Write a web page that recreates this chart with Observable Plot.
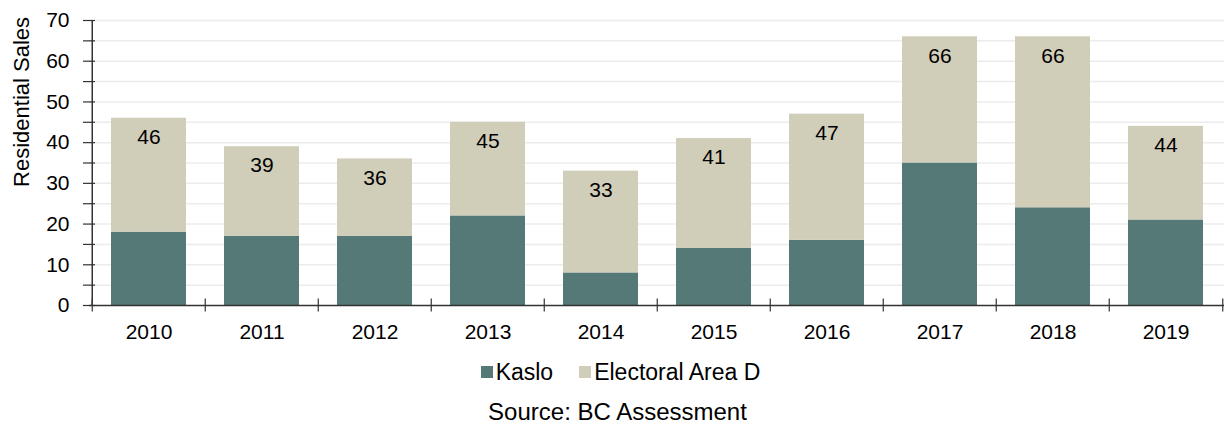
<!DOCTYPE html>
<html>
<head>
<meta charset="utf-8">
<script src="https://cdn.jsdelivr.net/npm/d3@7"></script>
<script src="https://cdn.jsdelivr.net/npm/@observablehq/plot@0.6"></script>
<style>
  html, body { margin: 0; padding: 0; background: #fff; }
  body { width: 1231px; font-family: "Liberation Sans", Arial, sans-serif; color: #000; }
  #legend { display: flex; justify-content: center; align-items: center; height: 26px; line-height: 26px; margin-top: 14px; font-size: 23px; padding-left: 10px; }
  .item { display: flex; align-items: center; margin: 0 13px; }
  .sw { width: 12px; height: 12px; margin-right: 3px; }
  #caption { text-align: center; height: 26px; line-height: 26px; margin-top: 14px; font-size: 24px; padding-left: 4px; }
</style>
</head>
<body>
<div id="chart"></div>
<div id="legend"></div>
<div id="caption">Source: BC Assessment</div>
<script>
const years = ["2010","2011","2012","2013","2014","2015","2016","2017","2018","2019"];
const kaslo = [18, 17, 17, 22, 8, 14, 16, 35, 24, 21];
const electoralAreaD = [28, 22, 19, 23, 25, 27, 31, 31, 42, 23];
const totals = [46, 39, 36, 45, 33, 41, 47, 66, 66, 44];
const seriesNames = ["Kaslo", "Electoral Area D"];
const seriesColors = ["#557976", "#d0cdb8"];
const yTicks = [0, 10, 20, 30, 40, 50, 60, 70];
const yMinorTicks = [0, 5, 10, 15, 20, 25, 30, 35, 40, 45, 50, 55, 60, 65, 70];

const W = 1231, ML = 89, MR = 7;
const step = (W - ML - MR) / years.length;

const rows = [];
years.forEach((y, i) => {
  rows.push({year: y, series: seriesNames[0], value: kaslo[i]});
  rows.push({year: y, series: seriesNames[1], value: electoralAreaD[i]});
});
const labels = years.map((y, i) => ({year: y, total: totals[i]}));

const plot = Plot.plot({
  width: W,
  height: 345,
  marginLeft: ML,
  marginRight: MR,
  marginTop: 20,
  marginBottom: 40,
  style: {fontFamily: "'Liberation Sans', Arial, sans-serif", fontSize: "21px", color: "#000", background: "#fff"},
  x: {domain: years, padding: 0, label: null},
  y: {domain: [0, 70], label: null},
  color: {domain: seriesNames, range: seriesColors},
  marks: [
    Plot.gridY(yMinorTicks.filter(d => d > 0), {stroke: "#ececec", strokeOpacity: 1, strokeWidth: 1.5}),
    Plot.barY(rows, {x: "year", y: "value", fill: "series", insetLeft: 19, insetRight: 19, order: null}),
    Plot.text(labels, {x: "year", y: "total", text: d => String(d.total), dy: 19, fontSize: 21, fill: "#000"}),
    // x axis line and category boundary ticks
    Plot.ruleY([0], {stroke: "#333", strokeWidth: 1.5}),
    Plot.ruleX(years, {x: d => d, y1: -1.6, y2: 1.6, dx: -step / 2, stroke: "#333", strokeWidth: 1.2}),
    Plot.ruleX([years[years.length - 1]], {x: d => d, y1: -1.6, y2: 1.6, dx: step / 2, stroke: "#333", strokeWidth: 1.2}),
    // y axis line
    Plot.ruleX([years[0]], {x: d => d, y1: 0, y2: 70, dx: -step / 2, stroke: "#333", strokeWidth: 1.5}),
    Plot.axisY(yMinorTicks, {tickSize: 12, dx: 6, stroke: "#333", strokeWidth: 1.2, tickFormat: () => "", label: null}),
    Plot.axisY(yTicks, {tickSize: 0, tickPadding: 20, fontSize: 21, fill: "#000", label: null}),
    Plot.axisX({tickSize: 0, tickPadding: 19, fontSize: 21, fill: "#000", label: null}),
    Plot.text(["Residential Sales"], {frameAnchor: "left", y: () => 50, dx: -68, rotate: -90, fontSize: 22, fill: "#000", textAnchor: "middle"})
  ]
});
document.getElementById("chart").appendChild(plot);

const legend = document.getElementById("legend");
seriesNames.forEach((name, i) => {
  const item = document.createElement("div");
  item.className = "item";
  const sw = document.createElement("div");
  sw.className = "sw";
  sw.style.background = seriesColors[i];
  const t = document.createElement("span");
  t.textContent = name;
  item.appendChild(sw);
  item.appendChild(t);
  legend.appendChild(item);
});
</script>
</body>
</html>
